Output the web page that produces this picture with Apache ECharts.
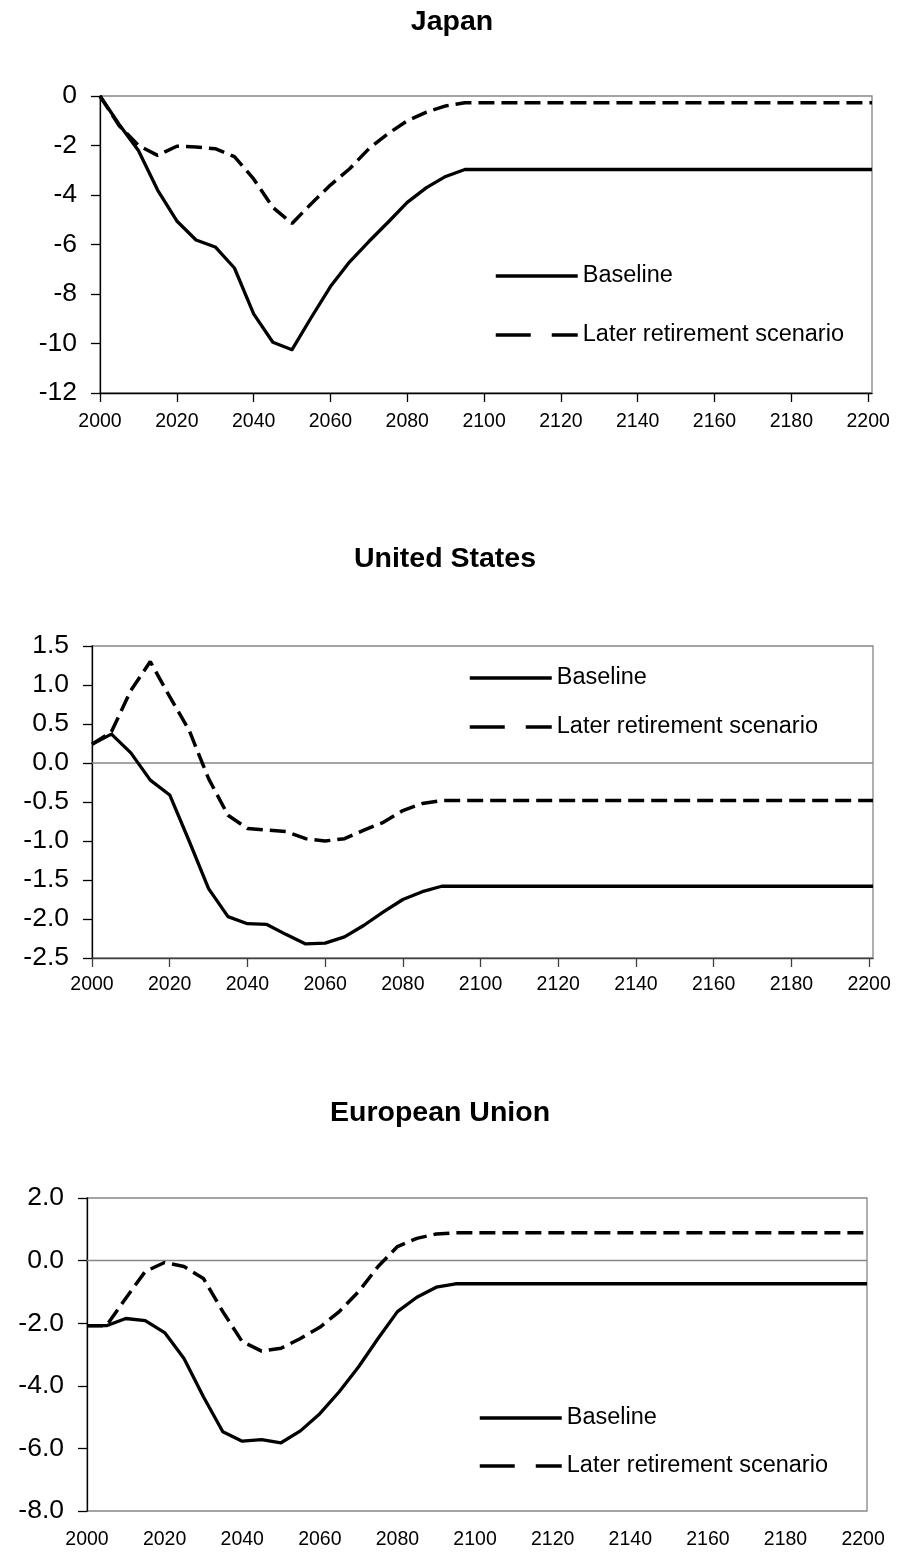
<!DOCTYPE html>
<html>
<head>
<meta charset="utf-8">
<script src="https://cdn.jsdelivr.net/npm/echarts@6/dist/echarts.min.js"></script>
<style>
  html, body { margin: 0; padding: 0; background: #fff; }
  #chart { width: 898px; height: 1554px; }
</style>
</head>
<body>
<div id="chart"></div>
<script>
// Years of the projection; the last point closes the horizon at the right edge of the plot.
const years = [2000, 2005, 2010, 2015, 2020, 2025, 2030, 2035, 2040, 2045,
               2050, 2055, 2060, 2065, 2070, 2075, 2080, 2085, 2090, 2095, 2201];

// Labelled ticks on the time axis
const xTicks = [2000, 2020, 2040, 2060, 2080, 2100, 2120, 2140, 2160, 2180, 2200];
const xMin = 2000, xMax = 2201;

const seriesNames = ['Baseline', 'Later retirement scenario'];

// Japan
const japanBaseline = [0, -1.15, -2.2, -3.8, -5.05, -5.82, -6.1, -6.95, -8.8, -9.95,
                       -10.25, -8.95, -7.7, -6.7, -5.88, -5.1, -4.3, -3.7, -3.25, -2.97, -2.97];
const japanLater    = [0, -1.2, -2.0, -2.4, -2.03, -2.06, -2.13, -2.45, -3.35, -4.5,
                       -5.15, -4.35, -3.6, -2.94, -2.13, -1.52, -1.0, -0.65, -0.4, -0.27, -0.27];

// United States
const usBaseline = [0.24, 0.37, 0.13, -0.22, -0.41, -1.0, -1.61, -1.97, -2.06, -2.07,
                    -2.2, -2.32, -2.31, -2.23, -2.08, -1.91, -1.75, -1.65, -1.58, -1.58, -1.58];
const usLater    = [0.24, 0.4, 0.93, 1.3, 0.85, 0.42, -0.2, -0.67, -0.84, -0.86,
                    -0.88, -0.97, -1.0, -0.97, -0.86, -0.76, -0.61, -0.52, -0.48, -0.48, -0.48];

// European Union
const euBaseline = [-2.08, -2.08, -1.85, -1.92, -2.3, -3.13, -4.35, -5.47, -5.77, -5.72,
                    -5.82, -5.44, -4.89, -4.19, -3.39, -2.49, -1.63, -1.17, -0.85, -0.74, -0.74];
const euLater    = [-2.08, -2.08, -1.2, -0.35, -0.06, -0.19, -0.57, -1.63, -2.59, -2.89,
                    -2.8, -2.49, -2.13, -1.63, -0.99, -0.19, 0.45, 0.71, 0.85, 0.89, 0.89];

const FONT = '"Liberation Sans", Arial, Helvetica, sans-serif';
const GREY = '#868686';

function pairs(vals) { return years.map((y, i) => [y, vals[i]]); }

function makeX(gridIndex, o) {
  return {
    type: 'value', gridIndex: gridIndex, min: xMin, max: xMax, interval: 20,
    axisLine: { show: o.line, onZero: false, lineStyle: { color: o.color, width: 1.3 } },
    axisTick: { show: o.ticks, length: 9, customValues: xTicks, lineStyle: { color: o.color, width: 1.3 } },
    axisLabel: { customValues: xTicks, margin: o.margin, fontSize: 19.5, color: '#000', fontFamily: FONT,
                 formatter: v => String(v) },
    splitLine: { show: false }
  };
}

function makeY(gridIndex, min, max, interval, digits) {
  return {
    type: 'value', gridIndex: gridIndex, min: min, max: max, interval: interval,
    axisLine: { show: true, onZero: false, lineStyle: { color: '#000', width: 1.3 } },
    axisTick: { show: true, length: 9, lineStyle: { color: '#000', width: 1.3 } },
    axisLabel: { margin: 23, fontSize: 26.5, color: '#000', fontFamily: FONT,
                 formatter: v => v.toFixed(digits) },
    splitLine: { show: false }
  };
}

function makeSeries(idx, base, later, zeroLine) {
  const out = [
    { type: 'line', name: seriesNames[0], xAxisIndex: idx, yAxisIndex: idx, data: pairs(base),
      symbol: 'none', silent: true, z: 3, itemStyle: { color: '#000' },
      lineStyle: { color: '#000', width: 3.3, join: 'round' } },
    { type: 'line', name: seriesNames[1], xAxisIndex: idx, yAxisIndex: idx, data: pairs(later),
      symbol: 'none', silent: true, z: 3, itemStyle: { color: '#000' },
      lineStyle: { color: '#000', width: 3.5, type: [16, 7] } }
  ];
  if (zeroLine) {
    out.push({ type: 'line', xAxisIndex: idx, yAxisIndex: idx, data: [[xMin, 0], [xMax, 0]],
      symbol: 'none', silent: true, z: 1, lineStyle: { color: GREY, width: 1.5 } });
  }
  return out;
}

function makeLegend(left, top, gap) {
  return {
    left: left, top: top, orient: 'vertical', padding: 0,
    itemWidth: 82, itemHeight: 24, itemGap: gap, selectedMode: false,
    textStyle: { fontSize: 23.5, lineHeight: 24, fontFamily: FONT, color: '#000' },
    data: [
      { name: seriesNames[0], itemStyle: { opacity: 0 }, lineStyle: { width: 3.3, type: 'solid', color: '#000' } },
      { name: seriesNames[1], itemStyle: { opacity: 0 }, lineStyle: { width: 3.5, type: [35, 21], color: '#000' } }
    ]
  };
}

function makeTitle(text, x, y) {
  return { text: text, left: x, top: y, textAlign: 'center', textVerticalAlign: 'middle', padding: 0,
           textStyle: { fontSize: 28.5, fontWeight: 'bold', fontFamily: FONT, color: '#000' } };
}

const gridStyle = { show: true, borderColor: GREY, borderWidth: 1.3, backgroundColor: 'transparent' };

const option = {
  animation: false,
  backgroundColor: '#fff',
  title: [
    makeTitle('Japan', 452, 22),
    makeTitle('United States', 445, 559),
    makeTitle('European Union', 440, 1113)
  ],
  legend: [
    makeLegend(494, 264, 35),
    makeLegend(468, 666, 25),
    makeLegend(478, 1406, 24)
  ],
  grid: [
    Object.assign({ left: 100, top: 96, width: 772, height: 297 }, gridStyle),
    Object.assign({ left: 92, top: 646, width: 781, height: 312 }, gridStyle),
    Object.assign({ left: 87, top: 1198, width: 780, height: 313 }, gridStyle)
  ],
  xAxis: [
    makeX(0, { line: true, ticks: true, color: '#000', margin: 19 }),
    makeX(1, { line: true, ticks: true, color: '#404040', margin: 17 }),
    makeX(2, { line: false, ticks: false, color: GREY, margin: 19 })
  ],
  yAxis: [
    makeY(0, -12, 0, 2, 0),
    makeY(1, -2.5, 1.5, 0.5, 1),
    makeY(2, -8, 2, 2, 1)
  ],
  series: [].concat(
    makeSeries(0, japanBaseline, japanLater, false),
    makeSeries(1, usBaseline, usLater, true),
    makeSeries(2, euBaseline, euLater, true)
  )
};

const chart = echarts.init(document.getElementById('chart'), null, { renderer: 'canvas' });
chart.setOption(option);
</script>
</body>
</html>
